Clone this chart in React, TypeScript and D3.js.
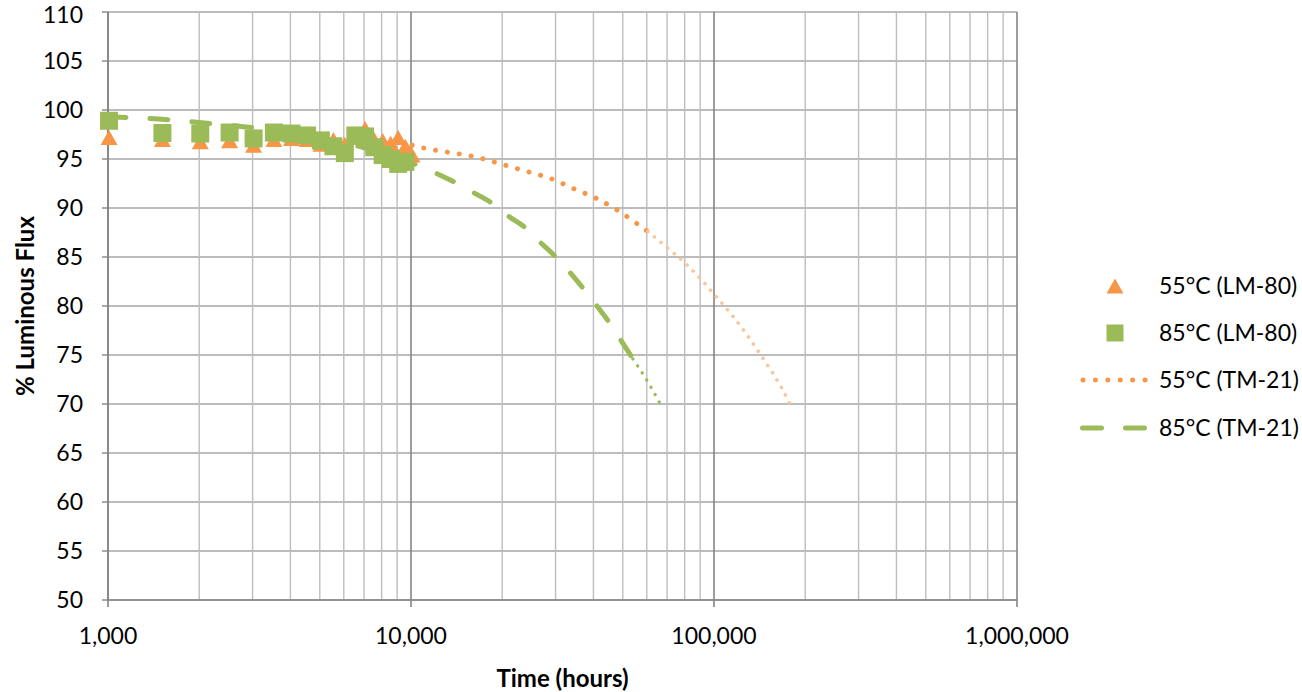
import React, { useEffect } from "react";
import * as d3 from "d3";

// ---- data ----
const lm80Hours55 = [1008, 1512, 2016, 2520, 3024, 3528, 4032, 4536, 5040, 5544, 6048, 6552, 7056, 7560, 8064, 8568, 9072, 9576, 10080];
const lm80Flux55 = [97.2, 97.0, 96.75, 96.85, 96.4, 97.0, 97.1, 97.0, 96.5, 97.0, 96.5, 97.2, 98.1, 97.0, 96.9, 96.6, 97.2, 96.3, 95.4];

const lm80Hours85 = [1008, 1512, 2016, 2520, 3024, 3528, 4032, 4536, 5040, 5544, 6048, 6552, 7056, 7560, 8064, 8568, 9072, 9576];
const lm80Flux85 = [98.9, 97.65, 97.6, 97.7, 97.1, 97.7, 97.6, 97.4, 96.9, 96.3, 95.6, 97.4, 97.3, 96.2, 95.4, 95.0, 94.5, 94.7];

// TM-21 projection, 55°C (reported part, then extrapolated part)
const tm55Reported: [number, number][] = [
  [10080, 96.4], [10710, 96.2], [16890, 95.1], [20280, 94.4], [24320, 93.7], [28970, 93.0],
  [34260, 92.0], [40800, 91.0], [47860, 89.8], [55750, 88.4], [60480, 87.6],
];
const tm55Extrap: [number, number][] = [
  [60480, 87.6], [70460, 85.9], [81460, 84.2], [91990, 82.5], [100000, 81.2], [113000, 79.3],
  [127500, 77.2], [141900, 75.1], [156600, 73.1], [167500, 71.6], [178000, 70.0],
];
// TM-21 projection, 85°C
const tm85Reported: [number, number][] = [
  [1000, 99.3], [1600, 99.0], [2200, 98.6], [3000, 98.2], [4000, 97.7], [5500, 96.9], [7500, 95.9],
  [10080, 94.6], [12000, 93.6], [14000, 92.6], [16000, 91.6], [18500, 90.5], [20900, 89.2],
  [23800, 88.0], [26700, 86.5], [30300, 84.9], [33500, 83.4], [37000, 81.8], [41100, 80.0],
  [44700, 78.5], [49300, 76.5], [54000, 74.6],
];
const tm85Extrap: [number, number][] = [
  [54000, 74.6], [60100, 72.4], [66500, 70.0],
];

const xTicks = [1000, 10000, 100000, 1000000];
const yTicks = [50, 55, 60, 65, 70, 75, 80, 85, 90, 95, 100, 105, 110];
const legendLabels = ["55°C (LM-80)", "85°C (LM-80)", "55°C (TM-21)", "85°C (TM-21)"];

const ORANGE = "#F79646";
const ORANGE_LIGHT = "#FBC49A";
const GREEN = "#9BBB59";
const FONT = "Lato, 'Open Sans', sans-serif";

export default function App() {
  useEffect(() => {
    document.body.style.margin = "0";
    document.body.style.overflow = "hidden";
  }, []);

  const W = 1302, H = 692;
  const x = d3.scaleLog().domain([1000, 1000000]).range([108, 1017]);
  const y = d3.scaleLinear().domain([50, 110]).range([600, 12]);

  const minorX: number[] = [];
  for (let dec = 1000; dec < 1000000; dec *= 10) {
    for (let m = 2; m <= 9; m++) minorX.push(dec * m);
  }

  const line = d3.line<[number, number]>()
    .x((d) => x(d[0]))
    .y((d) => y(d[1]))
    .curve(d3.curveMonotoneX);

  const triPath = (cx: number, cy: number) => {
    const w = 17, h = 15;
    return `M${cx},${cy - h / 2}L${cx + w / 2},${cy + h / 2}L${cx - w / 2},${cy + h / 2}Z`;
  };
  const SQ = 18;
  const TICK_FS = 23;

  const legendY = [286, 333, 380, 428];
  const legendMarkerX = 1115;

  return (
    <svg width={W} height={H} style={{ display: "block", background: "#fff" }} fontFamily={FONT}>
      {/* horizontal gridlines */}
      {yTicks.map((t) => (
        <line key={"hy" + t} x1={x(1000)} x2={x(1000000)} y1={y(t)} y2={y(t)} stroke="#a6a6a6" strokeWidth={1.4} />
      ))}
      {/* minor vertical gridlines */}
      {minorX.map((t) => (
        <line key={"mx" + t} x1={x(t)} x2={x(t)} y1={y(110)} y2={y(50)} stroke="#bdbdbd" strokeWidth={1.4} />
      ))}
      {/* major vertical gridlines */}
      {xTicks.map((t) => (
        <line key={"Mx" + t} x1={x(t)} x2={x(t)} y1={y(110)} y2={y(50) + 7} stroke="#858585" strokeWidth={1.6} />
      ))}
      {/* axes */}
      <line x1={x(1000)} x2={x(1000000)} y1={y(50)} y2={y(50)} stroke="#858585" strokeWidth={1.6} />
      <line x1={x(1000)} x2={x(1000)} y1={y(110)} y2={y(50)} stroke="#858585" strokeWidth={1.6} />
      {yTicks.map((t) => (
        <line key={"yt" + t} x1={x(1000) - 6} x2={x(1000)} y1={y(t)} y2={y(t)} stroke="#858585" strokeWidth={1.4} />
      ))}

      {/* y tick labels */}
      {yTicks.map((t) => (
        <text key={"yl" + t} x={83} y={Math.max(y(t) + 0.36 * TICK_FS, TICK_FS)} textAnchor="end" fontSize={TICK_FS} fill="#000">
          {t}
        </text>
      ))}
      {/* x tick labels */}
      {xTicks.map((t) => (
        <text key={"xl" + t} x={x(t)} y={644} textAnchor="middle" fontSize={TICK_FS} fill="#000">
          {d3.format(",")(t)}
        </text>
      ))}

      {/* axis titles */}
      <text transform={`translate(34,${(y(110) + y(50)) / 2}) rotate(-90)`} textAnchor="middle" fontSize={24} fontWeight="bold">
        % Luminous Flux
      </text>
      <text x={(x(1000) + x(1000000)) / 2} y={687} textAnchor="middle" fontSize={24} fontWeight="bold">
        Time (hours)
      </text>

      {/* TM-21 lines */}
      <path d={line(tm85Reported) || ""} fill="none" stroke={GREEN} strokeWidth={5} strokeDasharray="18 24" strokeLinecap="round" />
      <path d={line(tm85Extrap) || ""} fill="none" stroke={GREEN} strokeWidth={3.4} strokeDasharray="0.01 8.4" strokeLinecap="round" />
      <path d={line(tm55Reported) || ""} fill="none" stroke={ORANGE} strokeWidth={5} strokeDasharray="0.01 12" strokeLinecap="round" />
      <path d={line(tm55Extrap) || ""} fill="none" stroke={ORANGE_LIGHT} strokeWidth={3.6} strokeDasharray="0.01 8.6" strokeLinecap="round" />

      {/* LM-80 markers */}
      {lm80Hours55.map((h, i) => (
        <path key={"t" + i} d={triPath(x(h), y(lm80Flux55[i]))} fill={ORANGE} />
      ))}
      {lm80Hours85.map((h, i) => (
        <rect key={"s" + i} x={x(h) - SQ / 2} y={y(lm80Flux85[i]) - SQ / 2} width={SQ} height={SQ} fill={GREEN} />
      ))}

      {/* legend */}
      <path d={triPath(legendMarkerX, legendY[0])} fill={ORANGE} />
      <rect x={legendMarkerX - 8.5} y={legendY[1] - 8.5} width={17} height={17} fill={GREEN} />
      <line x1={1083} x2={1146} y1={legendY[2]} y2={legendY[2]} stroke={ORANGE} strokeWidth={5} strokeDasharray="0.01 12.4" strokeLinecap="round" />
      <line x1={1082.5} x2={1145} y1={legendY[3]} y2={legendY[3]} stroke={GREEN} strokeWidth={5} strokeDasharray="19 24" strokeLinecap="round" />
      {legendLabels.map((l, i) => (
        <text key={"lg" + i} x={1159} y={legendY[i]} dy="0.36em" fontSize={23} fill="#000">
          {l}
        </text>
      ))}
    </svg>
  );
}
